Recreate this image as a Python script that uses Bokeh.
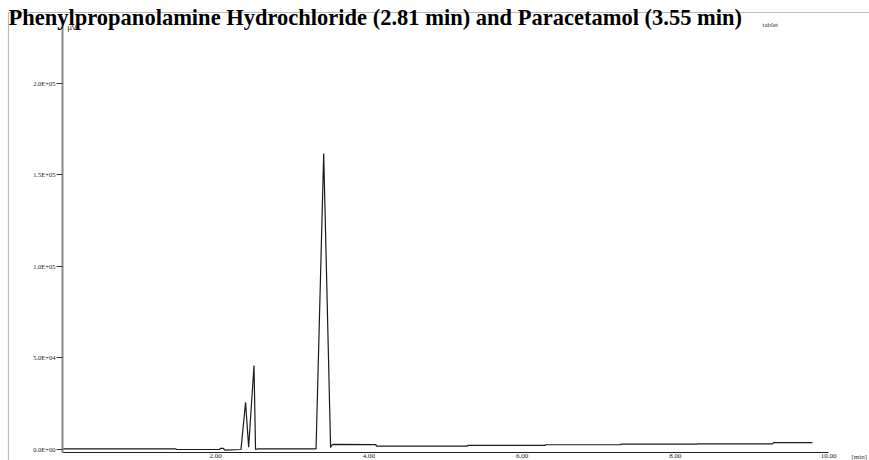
from bokeh.plotting import figure
from bokeh.models import FixedTicker, Label, BoxAnnotation, Range1d, LinearAxis
from bokeh.embed import file_html
from bokeh.resources import INLINE

# Chromatogram trace (retention time in min, detector signal in microvolts)
time_min = [0.00, 1.48, 1.49, 2.05, 2.06, 2.10, 2.12, 2.33, 2.39, 2.43, 2.50, 2.52,
            2.55, 3.31, 3.41, 3.50, 3.51, 3.53, 4.09, 4.10, 5.28, 5.29, 6.30, 6.31,
            7.28, 7.29, 8.28, 8.29, 9.27, 9.28, 9.79]
signal_uv = [300, 300, 0, 0, 600, 600, -300, 0, 25800, 1200, 45900, 0,
             300, 300, 161600, 1000, 2200, 2800, 2700, 1800, 1800, 2200, 2200, 2600,
             2600, 2900, 2900, 3100, 3100, 3700, 3700]

y_ticks = [0, 50000, 100000, 150000, 200000]
y_tick_labels = ["0.0E+00", "5.0E+04", "1.0E+05", "1.5E+05", "2.0E+05"]
x_ticks = [2, 4, 6, 8, 10]
x_tick_labels = ["2.00", "4.00", "6.00", "8.00", "10.00"]
y_axis_span = (-1640, 233000)
x_axis_span = (0, 10.0)

title_text = "Phenylpropanolamine Hydrochloride (2.81 min) and Paracetamol (3.55 min)"
sample_name = "tablet"
y_unit = "\u00b5V"
x_unit = "[min]"

W, H = 869, 460
PX_PER_MIN = 76.6
UV_PER_PX = 546.0
X0_PX = 62      # pixel column of t = 0
Y0_PX = 449     # pixel row of signal = 0

p = figure(width=W, height=H, output_backend="svg", toolbar_location=None,
           x_axis_type=None, y_axis_type=None,
           x_range=Range1d(-X0_PX / PX_PER_MIN, (W - X0_PX) / PX_PER_MIN),
           y_range=Range1d(-(H - Y0_PX) * UV_PER_PX, Y0_PX * UV_PER_PX),
           min_border=0)
p.title.visible = False
p.background_fill_color = "white"
p.border_fill_color = "white"
p.outline_line_color = None
p.grid.visible = False

# outer border box of the original figure
p.add_layout(BoxAnnotation(left=8, right=W + 5, top=H - 12, bottom=-5,
                           left_units="screen", right_units="screen",
                           top_units="screen", bottom_units="screen",
                           fill_color=None, line_color="#222222", line_width=1.2,
                           level="underlay"))

p.line(time_min, signal_uv, line_color="#1a1a1a", line_width=1.2)

yax = LinearAxis(fixed_location=0, bounds=y_axis_span)
yax.ticker = FixedTicker(ticks=y_ticks)
yax.major_label_overrides = {t: l for t, l in zip(y_ticks, y_tick_labels)}
yax.axis_line_color = "#8a8a8a"
yax.axis_line_width = 2
yax.major_tick_line_color = "#333333"
yax.major_tick_out = 6
yax.major_tick_in = 0
yax.minor_tick_line_color = None
yax.major_label_standoff = 1
yax.major_label_text_font = "Liberation Serif"
yax.major_label_text_font_size = "6.5px"
yax.major_label_text_color = "#222222"
p.add_layout(yax, "left")

xax = LinearAxis(fixed_location=y_axis_span[0], bounds=x_axis_span)
xax.ticker = FixedTicker(ticks=x_ticks)
xax.major_label_overrides = {t: l for t, l in zip(x_ticks, x_tick_labels)}
xax.axis_line_color = "#222222"
xax.axis_line_width = 1
xax.major_tick_line_color = None
xax.major_tick_out = 0
xax.major_tick_in = 0
xax.minor_tick_line_color = None
xax.major_label_standoff = 1
xax.major_label_text_font = "Liberation Serif"
xax.major_label_text_font_size = "7px"
xax.major_label_text_color = "#222222"
p.add_layout(xax, "below")

p.add_layout(Label(x=8, y=H - 17, x_units="screen", y_units="screen",
                   text=title_text, text_font="Liberation Serif", text_font_style="bold",
                   text_font_size="22.5px", text_color="black", text_baseline="alphabetic"))
p.add_layout(Label(x=X0_PX + 5, y=H - 27, x_units="screen", y_units="screen",
                   text=y_unit, text_font="Liberation Sans", text_font_size="7.5px",
                   text_color="#222222", text_baseline="alphabetic"))
p.add_layout(Label(x=762, y=H - 24, x_units="screen", y_units="screen",
                   text=sample_name, text_font="Liberation Serif", text_font_size="7px",
                   text_color="#333333", text_baseline="alphabetic"))
p.add_layout(Label(x=851, y=H - 456, x_units="screen", y_units="screen",
                   text=x_unit, text_font="Liberation Serif", text_font_size="7px",
                   text_color="#333333", text_baseline="middle"))

open("out.html", "w").write(file_html(p, INLINE))
